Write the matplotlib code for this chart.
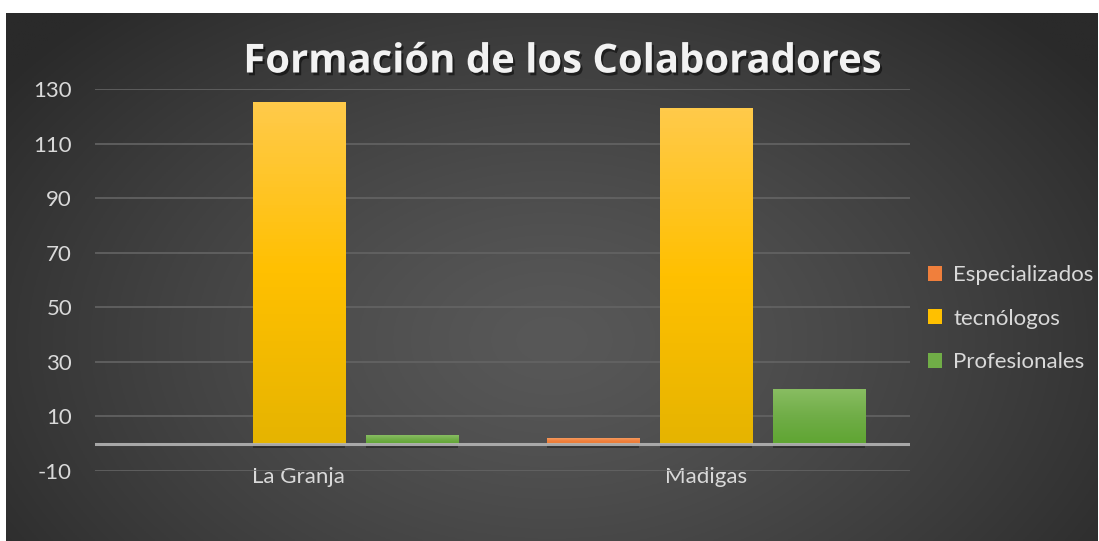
import numpy as np
import matplotlib.pyplot as plt
from matplotlib.patches import Rectangle
import matplotlib.patheffects as pe
from matplotlib.colors import LinearSegmentedColormap

categories = ["La Granja", "Madigas"]
series_names = ["Especializados", "tecnólogos", "Profesionales"]
especializados = [0, 2]
tecnologos = [125, 123]
profesionales = [3, 20]
yticks = [-10, 10, 30, 50, 70, 90, 110, 130]
title = "Formación de los Colaboradores"

series_values = [especializados, tecnologos, profesionales]
base_colors = ["#f07f3c", "#ffc000", "#70ad47"]
grad_colors = [("#f59a5e", "#ed7d31"), ("#ffca4a", "#e6b400"), ("#88bd62", "#5fa532")]

W, H = 1099, 541
fig = plt.figure(figsize=(W / 100, H / 100), dpi=100, facecolor="white")

# radial gradient background
bg = fig.add_axes([6 / W, 0, (1098 - 6) / W, (541 - 13) / H])
bg.set_axis_off()
ny, nx = 260, 540
yy, xx = np.mgrid[0:1:ny * 1j, 0:1:nx * 1j]
cx, cy = 0.50, 0.62
d = np.sqrt(((xx - cx) / 0.62) ** 2 + ((yy - cy) / 0.85) ** 2)
d = np.clip(d, 0, 1)
val = 0x58 - (0x58 - 0x2a) * d ** 1.3
img = np.dstack([val, val, val]) / 255.0
bg.imshow(img, extent=[0, 1, 0, 1], aspect="auto", origin="upper")
bg.set_xlim(0, 1)
bg.set_ylim(0, 1)

ax = fig.add_axes([95 / W, (541 - 471) / H, 815 / W, 382 / H])
ax.patch.set_alpha(0)
for s in ax.spines.values():
    s.set_visible(False)

x = np.arange(len(categories))
offsets = [-0.277, 0.0, 0.277]
width = 0.226
for vals, off, bc, (ctop, cbot) in zip(series_values, offsets, base_colors, grad_colors):
    bars = ax.bar(x + off, vals, width, color=bc, zorder=3,
                  path_effects=[pe.SimplePatchShadow(offset=(0, -3), shadow_rgbFace="black", alpha=0.35),
                                pe.Normal()])
    cmap = LinearSegmentedColormap.from_list("g", [cbot, bc, ctop])
    for b in bars:
        h = b.get_height()
        if h <= 0:
            continue
        grad = np.linspace(1, 0, 100).reshape(-1, 1)
        ax.imshow(grad, cmap=cmap, vmin=0, vmax=1, aspect="auto", zorder=3.5,
                  extent=[b.get_x(), b.get_x() + b.get_width(), 0, h], origin="upper")

ax.set_xlim(-0.5, 1.5)
ax.set_ylim(-10, 130)
ax.set_yticks(yticks)
ax.grid(axis="y", color="#646464", lw=1.2, zorder=1)
ax.axhline(0, color="#b4b4b4", lw=2.2, alpha=0.9, zorder=5)

font = "Lato"
ax.set_xticks(x)
ax.set_xticklabels(categories, fontsize=16, color="#d9d9d9", family=font)
ax.set_yticklabels([str(t) for t in yticks], fontsize=16, color="#d9d9d9", family=font)
ax.tick_params(axis="both", length=0)
ax.tick_params(axis="y", pad=16.5)
ax.tick_params(axis="x", pad=-3)

handles = [Rectangle((0, 0), 1, 1, facecolor=c) for c in base_colors]
leg = ax.legend(handles, series_names, loc="center left", bbox_to_anchor=(1.022, 0.399),
                frameon=False, borderpad=0, borderaxespad=0,
                handlelength=0.64, handleheight=0.64, handletextpad=0.5,
                labelspacing=1.06, prop={"family": font, "size": 16})
for t in leg.get_texts():
    t.set_color("#d9d9d9")

fig.text(562 / W, 1 - 62 / H, title, ha="center", va="center", fontsize=28.8,
         fontweight="bold", color="#f2f2f2", family="Open Sans",
         path_effects=[pe.withSimplePatchShadow(offset=(1.5, -2), shadow_rgbFace="black", alpha=0.5)])

fig.savefig("out.png", dpi=100, facecolor="white")
